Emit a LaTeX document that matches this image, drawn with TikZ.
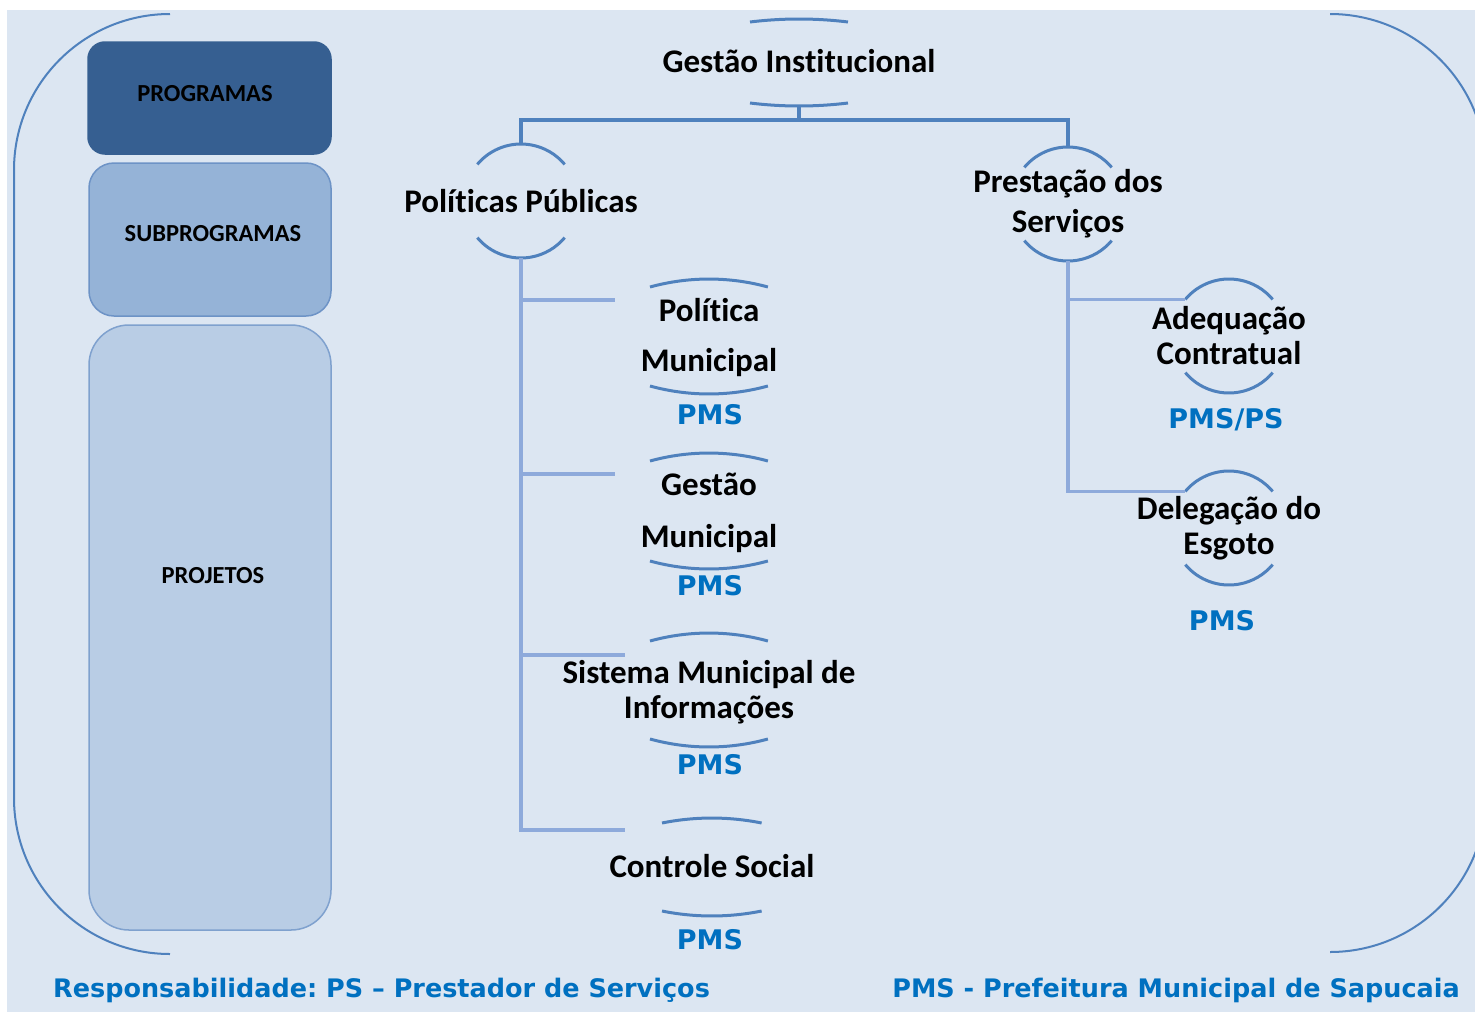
\documentclass[tikz,border=0pt]{standalone}
\usepackage{fontspec}
\setmainfont{Carlito}[Ligatures=NoCommon]
\newfontfamily\respfont{DejaVu Sans}
\frenchspacing
\usetikzlibrary{calc}
\definecolor{bgblue}{HTML}{DCE6F2}
\definecolor{lineblue}{HTML}{4F81BD}
\definecolor{branchblue}{HTML}{8EAADB}
\definecolor{progblue}{HTML}{365F91}
\definecolor{subblue}{HTML}{95B3D7}
\definecolor{subedge}{HTML}{6D93C6}
\definecolor{projblue}{HTML}{B9CDE5}
\definecolor{projedge}{HTML}{7FA1CE}
\definecolor{respblue}{HTML}{0070C0}
\begin{document}
\begin{tikzpicture}[x=1pt,y=-1pt,
    outer/.style={draw=lineblue, line width=2pt},
    brk/.style={draw=lineblue, line width=3pt},
    conn/.style={draw=lineblue, line width=3.4pt},
    branch/.style={draw=branchblue, line width=3.4pt},
    topic/.style={align=center, inner sep=0pt, font=\fontsize{33}{35}\selectfont\bfseries},
    resp/.style={inner sep=0pt, text=respblue, font=\respfont\fontsize{27}{30}\selectfont\bfseries},
    legend/.style={inner sep=0pt, text=respblue, font=\respfont\fontsize{25.5}{30}\selectfont\bfseries},
    lvlbox/.style={rounded corners=#1, inner sep=0pt, line width=1.5pt},
    lvltext/.style={inner sep=0pt, font=\fontsize{24.5}{26}\selectfont\bfseries}]
      \useasboundingbox (0,0) rectangle (1475,1012);
      \fill[bgblue] (7,10) rectangle (1475,1012);

      % outer brackets
      \draw[outer] (170,14) arc[start angle=270, end angle=180, radius=156] -- (14,798) arc[start angle=180, end angle=90, radius=156];
      \begin{scope}
        \clip (7,10) rectangle (1475,1012);
        \draw[outer] (1330,14) arc[start angle=270, end angle=360, radius=156] -- (1486,796) arc[start angle=0, end angle=90, radius=156];
      \end{scope}

      % levels
      \node[lvlbox=17, fill=progblue, draw=progblue, minimum width=243pt, minimum height=112pt] (prog) at (209.5,98) {};
      \node[lvlbox=25, fill=subblue, draw=subedge, minimum width=242pt, minimum height=153pt] (subprog) at (210,239.5) {};
      \node[lvlbox=40, fill=projblue, draw=projedge, minimum width=242pt, minimum height=605pt] (proj) at (210,627.5) {};
      \node[lvltext] (prog-t) at (205,94) {PROGRAMAS};
      \node[lvltext] (subprog-t) at (213,234) {SUBPROGRAMAS};
      \node[lvltext] (proj-t) at (213,576) {PROJETOS};

      % topics
      \node[topic] (gi) at (799,61) {Gestão Institucional};
      \node[topic] (pp) at (521,201) {Políticas Públicas};
      \node[topic] (ps) at (1068,204) {Prestação dos\\[5pt]Serviços};
      \node[topic] (ac) at (1229,336) {Adequação\\Contratual};
      \node[topic] (de) at (1229,528) {Delegação do\\Esgoto};
      \node[topic] (pm) at (709,338) {Política\\[15pt]Municipal};
      \node[topic] (gm) at (709,513) {Gestão\\[17pt]Municipal};
      \node[topic] (smi) at (709,692) {Sistema Municipal de\\Informações};
      \node[topic] (cs) at (712,866) {Controle Social};

      % brackets
      \draw[brk] ($(gi)+(-49,-39)$) arc[start angle=263, end angle=277, radius=402];
      \draw[brk] ($(gi)+(-49,42)$) arc[start angle=97, end angle=83, radius=402];
      \draw[brk] ($(pp)+(220:57)$) arc[start angle=220, end angle=320, radius=57];
      \draw[brk] ($(pp)+(140:57)$) arc[start angle=140, end angle=40, radius=57];
      \draw[brk] ($(ps)+(220:57)$) arc[start angle=220, end angle=320, radius=57];
      \draw[brk] ($(ps)+(140:57)$) arc[start angle=140, end angle=40, radius=57];
      \draw[brk] ($(ac)+(220:57)$) arc[start angle=220, end angle=320, radius=57];
      \draw[brk] ($(ac)+(140:57)$) arc[start angle=140, end angle=40, radius=57];
      \draw[brk] ($(de)+(220:57)$) arc[start angle=220, end angle=320, radius=57];
      \draw[brk] ($(de)+(140:57)$) arc[start angle=140, end angle=40, radius=57];
      \draw[brk] ($(pm)+(-59,-51)$) arc[start angle=254.6, end angle=285.4, radius=222];
      \draw[brk] ($(pm)+(-59,48)$) arc[start angle=105.4, end angle=74.6, radius=222];
      \draw[brk] ($(gm)+(-59,-52)$) arc[start angle=254.6, end angle=285.4, radius=222];
      \draw[brk] ($(gm)+(-59,48)$) arc[start angle=105.4, end angle=74.6, radius=222];
      \draw[brk] ($(smi)+(-59,-51)$) arc[start angle=254.6, end angle=285.4, radius=222];
      \draw[brk] ($(smi)+(-59,47)$) arc[start angle=105.4, end angle=74.6, radius=222];
      \draw[brk] ($(cs)+(-50,-43)$) arc[start angle=258.6, end angle=281.4, radius=252];
      \draw[brk] ($(cs)+(-50,45)$) arc[start angle=101.4, end angle=78.6, radius=252];

      \coordinate (gi-b) at ($(gi)+(0,45)$);
      \coordinate (pp-t) at ($(pp)+(0,-57)$);
      \coordinate (pp-b) at ($(pp)+(0,57)$);
      \coordinate (ps-t) at ($(ps)+(0,-57)$);
      \coordinate (ps-b) at ($(ps)+(0,57)$);
      \coordinate (ac-l) at ($(ac)+(220:57)$);
      \coordinate (de-l) at ($(de)+(220:57)$);
      \coordinate (pm-l) at ($(pm)+(-94,-38)$);
      \coordinate (gm-l) at ($(gm)+(-94,-39)$);
      \coordinate (smi-l) at ($(smi)+(-84,-37)$);
      \coordinate (cs-l) at ($(cs)+(-87,-36)$);

      % connectors
      \draw[conn] (gi-b) -- ++(0,14) -| (pp-t);
      \draw[conn] (gi-b) -- ++(0,14) -| (ps-t);
      \draw[branch] (pp-b) |- (pm-l);
      \draw[branch] (pp-b) |- (gm-l);
      \draw[branch] (pp-b) |- (smi-l);
      \draw[branch] (pp-b) |- (cs-l);
      \draw[branch] (ps-b) |- (ac-l);
      \draw[branch] (ps-b) |- (de-l);

      % responsibility
      \node[resp] (pm-r) at (710,415) {PMS};
      \node[resp] (gm-r) at (710,586) {PMS};
      \node[resp] (smi-r) at (710,765) {PMS};
      \node[resp] (cs-r) at (710,940) {PMS};
      \node[resp] (ac-r) at (1226,420) {PMS/PS};
      \node[resp] (de-r) at (1222,621) {PMS};

      \node[legend, anchor=west] (legend-ps) at (53,990) {Responsabilidade: PS – Prestador de Serviços};
      \node[legend, anchor=east] (legend-pms) at (1460,990) {PMS - Prefeitura Municipal de Sapucaia};
\end{tikzpicture}
\end{document}
